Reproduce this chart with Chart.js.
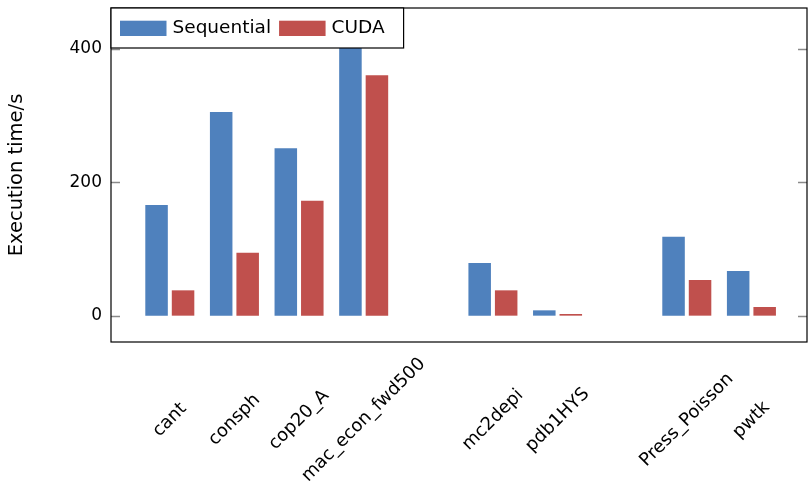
<!DOCTYPE html>
<html>
<head>
<meta charset="utf-8">
<script src="https://cdn.jsdelivr.net/npm/chart.js@4/dist/chart.umd.min.js"></script>
<style>
  html, body { margin: 0; padding: 0; background: #fff; }
  #wrap { width: 808px; height: 483px; }
</style>
</head>
<body>
<div id="wrap"><canvas id="c" width="808" height="483"></canvas></div>
<script>
// Matrices (blank slots are positions without measurements)
const categories = ['cant', 'consph', 'cop20_A', 'mac_econ_fwd500', '', 'mc2depi', 'pdb1HYS', '', 'Press_Poisson', 'pwtk'];
// Execution time in seconds
const sequential = [166, 305.5, 251, 480, null, 79, 8, null, 118.5, 67];
const cuda = [38, 94.5, 172.5, 360.5, null, 38, 2.5, null, 53.5, 13];
const seriesNames = ['Sequential', 'CUDA'];
const yTicks = [0, 200, 400];

const FONT = "'DejaVu Sans', sans-serif";
const BLUE = '#4f81bd';
const RED = '#c0504d';

const toPoints = vals => vals
  .map((v, i) => (v == null ? null : { x: i, y: v }))
  .filter(p => p !== null);

// Frame, inward ticks, rotated category labels and the inset legend
const decorPlugin = {
  id: 'decor',
  afterDraw(chart) {
    const { ctx, chartArea: a, scales: { x, y } } = chart;
    ctx.save();

    ctx.strokeStyle = '#8a8a8a';
    ctx.lineWidth = 1.3;
    yTicks.forEach(v => {
      const py = Math.round(y.getPixelForValue(v)) + 0.5;
      ctx.beginPath();
      ctx.moveTo(a.left, py); ctx.lineTo(a.left + 9, py);
      ctx.moveTo(a.right - 9, py); ctx.lineTo(a.right, py);
      ctx.stroke();
    });

    ctx.strokeStyle = '#000';
    ctx.lineWidth = 1.2;
    ctx.strokeRect(a.left, a.top, a.right - a.left, a.bottom - a.top);

    ctx.fillStyle = '#000';
    ctx.font = `18px ${FONT}`;
    ctx.textAlign = 'center';
    ctx.textBaseline = 'middle';
    categories.forEach((c, i) => {
      if (!c) return;
      ctx.save();
      ctx.translate(x.getPixelForValue(i), a.bottom + 78);
      ctx.rotate(-Math.PI / 4);
      ctx.fillText(c, 0, 0);
      ctx.restore();
    });

    // legend
    const colors = chart.data.datasets.map(d => d.backgroundColor);
    ctx.font = `18.5px ${FONT}`;
    const swW = 46.5, swH = 15.3, boxH = 40;
    let cx = a.left + 9;
    const items = seriesNames.map((n, i) => {
      const sx = cx;
      const tx = sx + swW + 6;
      const tw = ctx.measureText(n).width;
      cx = tx + tw + 8;
      return { n, sx, tx, color: colors[i] };
    });
    const boxW = cx + 11 - a.left;
    ctx.fillStyle = '#fff';
    ctx.fillRect(a.left, a.top, boxW, boxH);
    ctx.strokeStyle = '#000';
    ctx.lineWidth = 1.2;
    ctx.strokeRect(a.left, a.top, boxW, boxH);
    ctx.textAlign = 'left';
    ctx.textBaseline = 'middle';
    items.forEach(it => {
      ctx.fillStyle = it.color;
      ctx.fillRect(it.sx, a.top + 12.7, swW, swH);
      ctx.fillStyle = '#000';
      ctx.fillText(it.n, it.tx, a.top + 20.5);
    });

    ctx.restore();
  }
};

new Chart(document.getElementById('c'), {
  type: 'bar',
  data: {
    datasets: [
      { label: seriesNames[0], data: toPoints(sequential), backgroundColor: BLUE, borderWidth: 0 },
      { label: seriesNames[1], data: toPoints(cuda), backgroundColor: RED, borderWidth: 0 }
    ]
  },
  options: {
    responsive: false,
    animation: false,
    devicePixelRatio: 1,
    layout: { padding: { top: 8, right: 1, left: 0, bottom: 0 } },
    datasets: { bar: { categoryPercentage: 0.82, barPercentage: 0.85 } },
    plugins: { legend: { display: false }, tooltip: { enabled: false } },
    scales: {
      x: {
        type: 'linear',
        offset: false,
        min: -0.91,
        max: 9.86,
        afterBuildTicks(s) { s.ticks = categories.map((c, i) => ({ value: i })); },
        grid: { display: false, drawTicks: false },
        border: { display: false },
        ticks: { display: false },
        afterFit(s) { s.height = 141; s.paddingLeft = 0; s.paddingRight = 0; }
      },
      y: {
        min: -39.5,
        max: 461.5,
        afterBuildTicks(s) { s.ticks = yTicks.map(v => ({ value: v })); },
        grid: { display: false, drawTicks: false },
        border: { display: false },
        ticks: { padding: 9, color: '#000', font: { family: FONT, size: 17 } },
        title: {
          display: true,
          text: 'Execution time/s',
          color: '#000',
          font: { family: FONT, size: 19.5 },
          padding: { top: 5, bottom: 0 }
        },
        afterFit(s) { s.width = 111; s.paddingTop = 0; s.paddingBottom = 0; }
      }
    }
  },
  plugins: [decorPlugin]
});
</script>
</body>
</html>
